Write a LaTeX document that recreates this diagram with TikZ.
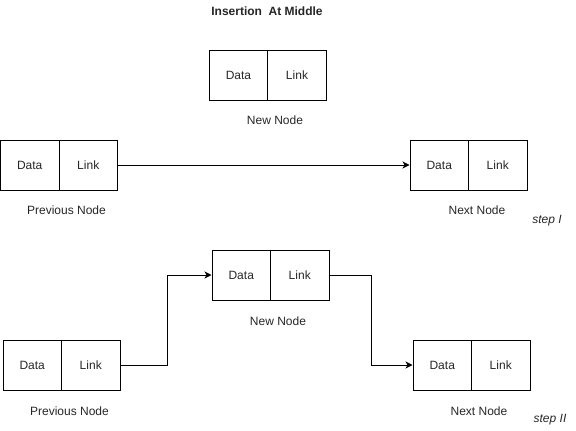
\documentclass[tikz,border=0pt]{standalone}
\usepackage{fontspec}
\setmainfont{Liberation Sans}
\usetikzlibrary{arrows.meta}
\begin{document}
\begin{tikzpicture}[x=1pt,y=-1pt,
  cell/.style={draw=black,line width=1pt,minimum width=58.5pt,minimum height=50pt,inner sep=0pt,font=\fontsize{12}{14}\selectfont,text=black!85},
  lbl/.style={inner sep=0pt,font=\fontsize{12}{14}\selectfont,text=black!85},
  steplbl/.style={inner sep=0pt,font=\fontsize{12}{14}\selectfont\itshape,text=black!85},
  link/.style={draw=black,line width=1pt,-{Stealth[length=7pt,width=7pt,inset=2pt]}}]
\useasboundingbox (0,0) rectangle (576,431);
\node[lbl,font=\fontsize{12}{14}\selectfont\bfseries] (title) at (267,11) {Insertion\ \ At Middle};
% top new node
\node[cell] (t0d) at (238.5,75) {Data};
\node[cell] (t0l) at (297,75) {Link};
\node[lbl] (t0lab) at (275,120) {New Node};
% step I
\node[cell] (p1d) at (29.75,165) {Data};
\node[cell] (p1l) at (88.25,165) {Link};
\node[lbl] (p1lab) at (66.5,210) {Previous Node};
\node[cell] (x1d) at (439.25,165) {Data};
\node[cell] (x1l) at (497.75,165) {Link};
\node[lbl] (x1lab) at (477,210) {Next Node};
\node[steplbl] (s1) at (547,221) {step I};
\draw[link] (p1l.east) -- (x1d.west);
% step II
\node[cell] (n2d) at (241.25,275) {Data};
\node[cell] (n2l) at (299.75,275) {Link};
\node[lbl] (n2lab) at (278,321) {New Node};
\node[cell] (p2d) at (32.25,365) {Data};
\node[cell] (p2l) at (90.75,365) {Link};
\node[lbl] (p2lab) at (69.5,411) {Previous Node};
\node[cell] (x2d) at (442.25,365) {Data};
\node[cell] (x2l) at (500.75,365) {Link};
\node[lbl] (x2lab) at (479,411) {Next Node};
\node[steplbl] (s2) at (550,420) {step II};
\coordinate (b1) at (167,365);
\coordinate (b2) at (371,275);
\draw[link] (p2l.east) -- (b1) |- (n2d.west);
\draw[link] (n2l.east) -- (b2) |- (x2d.west);
\end{tikzpicture}
\end{document}
